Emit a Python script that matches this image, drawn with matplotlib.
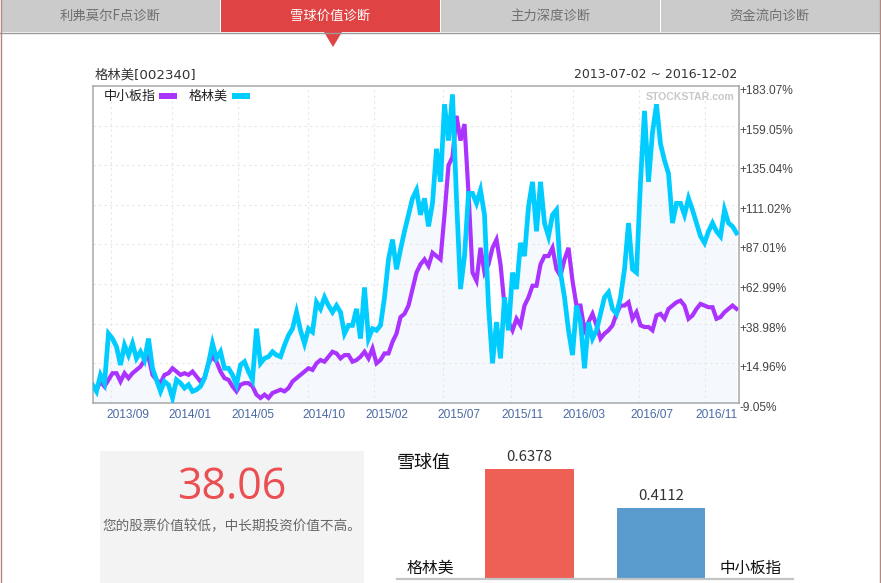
import matplotlib
matplotlib.use('Agg')
import matplotlib.pyplot as plt
from matplotlib.patches import Rectangle, Polygon
from matplotlib.transforms import ScaledTranslation
import numpy as np

plt.rcParams['font.family'] = ['Noto Sans CJK SC', 'DejaVu Sans']

# dados (% acumulado, uma amostra a cada ~5 pregoes)
gelinmei = [2, -2, 8, 3, 33, 30, 25, 14, 26, 20,
            27, 18, 22, 17, 30, 12, 5, -2, 4, 2,
            -6, 5, 3, 0, 2, -2, -1, 1, 6, 15,
            27, 18, 22, 12, 12, 8, 2, 14, 16, 10,
            5, 36, 15, 18, 19, 22, 20, 19, 26, 32,
            36, 46, 35, 27, 36, 34, 52, 48, 55, 50,
            46, 50, 46, 33, 38, 38, 48, 30, 61, 30,
            36, 35, 38, 55, 78, 90, 72, 84, 95, 105,
            115, 120, 105,
            115, 98, 112, 145, 125, 172, 150, 178, 115, 60,
            80, 118, 118, 112, 120, 105, 50, 15, 40, 18,
            55, 35, 70, 60, 88, 80, 110, 125, 95, 125,
            100, 92, 105, 108, 70, 55, 35, 20, 50, 40,
            12, 40, 30, 35, 45, 55, 58, 48, 45, 55,
            72, 100, 72, 70, 125, 168, 125, 155, 172, 148,
            138, 130, 100, 112, 112, 105, 115, 108, 100, 92,
            88, 95, 100, 95, 92, 108, 100, 98, 94]

zhongxiaoban = [2, -1, 4, 1, 5, 9, 9, 4, 9, 6,
                9, 11, 13, 17, 19, 8, 5, 3, 8, 9,
                12, 10, 8, 9, 8, 10, 7, 4, 6, 15,
                19, 16, 10, 6, 5, 1, -2, 2, 3, 3,
                1, -4, -6, -4, -6, -3, -2, -1, -2, 0,
                4, 6, 8, 10, 12, 11, 15, 17, 16, 19,
                22, 21, 18, 20, 20, 16, 17, 19, 22, 18,
                24, 15, 17, 21, 21, 28, 33, 43, 45, 50,
                60, 70, 75,
                78, 74, 82, 80, 78, 105, 135, 140, 165, 150,
                160, 118, 70, 65, 85, 70, 75, 85, 90, 75,
                50, 40, 35, 42, 38, 50, 55, 62, 62, 75,
                80, 80, 85, 72, 68, 78, 85, 65, 50, 50,
                35, 40, 45, 38, 30, 33, 35, 38, 45, 50,
                50, 52, 42, 46, 38, 37, 37, 35, 44, 45,
                42, 48, 50, 52, 53, 50, 42, 44, 48, 51,
                50, 49, 49, 42, 43, 46, 48, 50, 48]

y_ticks = [183.07, 159.05, 135.04, 111.02, 87.01, 62.99, 38.98, 14.96, -9.05]
y_labels = ['+183.07%', '+159.05%', '+135.04%', '+111.02%', '+87.01%',
            '+62.99%', '+38.98%', '+14.96%', '-9.05%']
x_grid = [4.6, 19.9, 36.4, 53.9, 70.4, 87.6, 104.6, 120.1, 136.6, 153.1]
x_pos = [8.9, 24.4, 40.1, 57.9, 73.6, 91.6, 107.6, 122.9, 139.9, 156.1]
x_labels = ['2013/09', '2014/01', '2014/05', '2014/10', '2015/02',
            '2015/07', '2015/11', '2016/03', '2016/07', '2016/11']

tabs = ['利弗莫尔F点诊断', '雪球价值诊断', '主力深度诊断', '资金流向诊断']
bar_names = ['格林美', '中小板指']
bar_values = [0.6378, 0.4112]

W, H = 881, 583
fig = plt.figure(figsize=(W / 100, H / 100), dpi=100)

# camada de fundo em pixels (abas, painel cinza, textos soltos)
bg = fig.add_axes([0, 0, 1, 1])
bg.set_xlim(0, W)
bg.set_ylim(H, 0)
bg.axis('off')

for i, nome in enumerate(tabs):
    x0 = 1 + i * 220
    ativo = i == 1
    bg.add_patch(Rectangle((x0, 0), 219, 32, fc='#df4343' if ativo else '#cbcbcb', ec='none'))
    bg.text(x0 + 109, 16, nome, ha='center', va='center', fontsize=9.6,
            color='white' if ativo else '#6f6f6f')
bg.plot([0, W], [32.5, 32.5], color='#9a9a9a', lw=1)
bg.add_patch(Polygon([(324, 32), (342, 32), (333, 47)], fc='#df4343', ec='none'))
bg.plot([1, 1], [0, H], color='#b08a80', lw=1)
bg.plot([880, 880], [0, H], color='#b08a80', lw=1)

bg.text(95, 75, '格林美[002340]', ha='left', va='center', fontsize=9.6, color='#333333',
        family=['DejaVu Sans', 'Noto Sans CJK SC'])
bg.text(737, 75, '2013-07-02 ~ 2016-12-02', ha='right', va='center', fontsize=9.0,
        color='#333333', family=['DejaVu Sans', 'Noto Sans CJK SC'])

bg.add_patch(Rectangle((100, 451), 264, 132, fc='#f3f3f3', ec='none'))
bg.text(232, 488, '38.06', ha='center', va='center', fontsize=31, color='#ea4f52',
        family='Open Sans')
bg.text(232, 526, '您的股票价值较低，中长期投资价值不高。', ha='center', va='center',
        fontsize=9.8, color='#666666')

# grafico de linhas
ax = fig.add_axes([92.5 / W, 1 - 403 / H, 646 / W, 317 / H])
x_a = np.arange(len(gelinmei))
x_b = np.arange(len(zhongxiaoban))
ax.fill_between(x_a, gelinmei, -9.05, color='#f5f9fd', lw=0, zorder=1)
ax.vlines(x_grid, -9.05, 183.07, color='#e6e6e6', lw=0.8, linestyles=(0, (2, 3)), zorder=1.5)
ax.hlines(y_ticks[1:-1], 0, 161.5, color='#e6e6e6', lw=0.8, linestyles=(0, (2, 3)), zorder=1.5)
ax.plot(x_b, zhongxiaoban, color='#aa33ff', lw=3.0, solid_joinstyle='miter', zorder=2)
ax.plot(x_a, gelinmei, color='#00ccff', lw=3.4, solid_joinstyle='miter', zorder=3)
ax.set_xlim(0, 161.5)
ax.set_ylim(-9.05, 183.07)

ax.set_xticks(x_pos)
ax.set_xticklabels(x_labels, fontsize=8.6, color='#4a6aa5', family='Liberation Sans')
ax.set_yticks(y_ticks)
ax.set_yticklabels(y_labels, fontsize=8.6, color='#444444', family='Liberation Sans')
ax.yaxis.tick_right()
ax.tick_params(length=0, pad=1)
ax.tick_params(axis='x', pad=4)
desloc = ScaledTranslation(0, -3.5 / 100, fig.dpi_scale_trans)
for t in ax.get_yticklabels():
    t.set_transform(t.get_transform() + desloc)
for s in ax.spines.values():
    s.set_color('#a8a8a8')
    s.set_linewidth(1.1)

# legenda e marca d'agua por cima do grafico
top = fig.add_axes([0, 0, 1, 1])
top.set_xlim(0, W)
top.set_ylim(H, 0)
top.axis('off')
top.text(104, 96.5, '中小板指', ha='left', va='center', fontsize=9.4, color='#222222')
top.add_patch(Rectangle((159, 92.5), 18, 6, fc='#aa33ff', ec='none'))
top.text(189, 96.5, '格林美', ha='left', va='center', fontsize=9.4, color='#222222')
top.add_patch(Rectangle((232, 92.5), 18, 6, fc='#00ccff', ec='none'))
top.text(734, 96.5, 'STOCKSTAR.com', ha='right', va='center', fontsize=7.6, fontweight='bold',
         color='#c8c8c8', family='Liberation Sans')

# grafico de barras
ax2 = fig.add_axes([397 / W, 1 - 578.5 / H, 396 / W, 138.5 / H])
ax2.patch.set_alpha(0)
ax2.bar([0, 1], bar_values, width=0.673, color=['#ee6055', '#5a9bce'])
ax2.set_xlim(-1.008, 2.004)
ax2.set_ylim(0, 0.81)
ax2.set_yticks([])
ax2.set_xticks([])
for s in ['top', 'left', 'right']:
    ax2.spines[s].set_visible(False)
ax2.spines['bottom'].set_color('#c4c4c4')
ax2.spines['bottom'].set_linewidth(1.6)
for i, v in enumerate(bar_values):
    ax2.annotate(f'{v:.4f}', (i, v), xytext=(0, 4), textcoords='offset points', ha='center',
                 va='bottom', fontsize=10.8, color='#333333')
top.text(430.5, 568, bar_names[0], ha='center', va='center', fontsize=11.4, color='#111111')
top.text(750.5, 568, bar_names[1], ha='center', va='center', fontsize=11.2, color='#111111')
top.text(397, 463, '雪球值', ha='left', va='center', fontsize=13, color='#111111')

fig.savefig('out.png', dpi=100)
